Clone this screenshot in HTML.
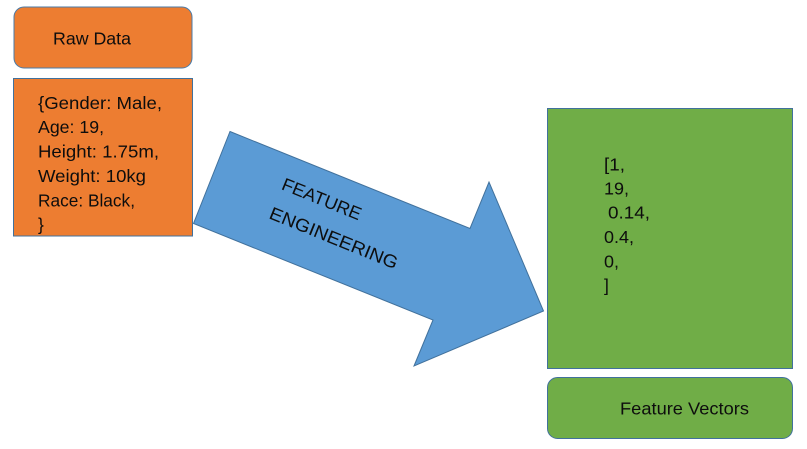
<!DOCTYPE html>
<html>
<head>
<meta charset="utf-8">
<style>
html,body{margin:0;padding:0;background:#fff;width:807px;height:449px;overflow:hidden}
svg{display:block}
text{font-family:"Liberation Sans",sans-serif;font-size:17.5px;fill:#0d0d0d}
</style>
</head>
<body>
<svg width="807" height="449" viewBox="0 0 807 449" xmlns="http://www.w3.org/2000/svg">
<rect x="14" y="7" width="178" height="61" rx="10" fill="#ed7d31" stroke="#4a7ba8" stroke-width="1"/>
<text x="53" y="44.5" textLength="78" lengthAdjust="spacingAndGlyphs">Raw Data</text>
<rect x="13.5" y="78.5" width="179" height="157.5" fill="#ed7d31" stroke="#41719c" stroke-width="1"/>
<text x="38" y="109" textLength="124" lengthAdjust="spacingAndGlyphs">{Gender: Male,</text>
<text x="38" y="133" textLength="66" lengthAdjust="spacingAndGlyphs">Age: 19,</text>
<text x="38" y="157.5" textLength="121" lengthAdjust="spacingAndGlyphs">Height: 1.75m,</text>
<text x="38" y="182" textLength="108" lengthAdjust="spacingAndGlyphs">Weight: 10kg</text>
<text x="38" y="206.5" textLength="97" lengthAdjust="spacingAndGlyphs">Race: Black,</text>
<text x="38" y="230.5">}</text>
<polygon points="230,131.5 470,228.5 489,182 543.5,311 414,366 433,320 193.5,223.5" fill="#5b9bd5" stroke="#41719c" stroke-width="1"/>
<text transform="translate(280.5,189) rotate(22)" style="font-size:18px" textLength="84" lengthAdjust="spacingAndGlyphs">FEATURE</text>
<text transform="translate(268,218) rotate(22)" style="font-size:18px" textLength="137" lengthAdjust="spacingAndGlyphs">ENGINEERING</text>
<rect x="547.5" y="108.5" width="245" height="260" fill="#70ad47" stroke="#41719c" stroke-width="1"/>
<text x="604" y="170.5" textLength="21" lengthAdjust="spacingAndGlyphs">[1,</text>
<text x="604" y="194.5" textLength="25" lengthAdjust="spacingAndGlyphs">19,</text>
<text x="608" y="218.5" textLength="42" lengthAdjust="spacingAndGlyphs">0.14,</text>
<text x="604" y="243" textLength="30" lengthAdjust="spacingAndGlyphs">0.4,</text>
<text x="604" y="267.5" textLength="15" lengthAdjust="spacingAndGlyphs">0,</text>
<text x="604" y="291.5">]</text>
<rect x="547.5" y="377.5" width="245" height="61" rx="10" fill="#70ad47" stroke="#41719c" stroke-width="1"/>
<text x="620" y="414.5" textLength="129" lengthAdjust="spacingAndGlyphs">Feature Vectors</text>
</svg>
</body>
</html>
